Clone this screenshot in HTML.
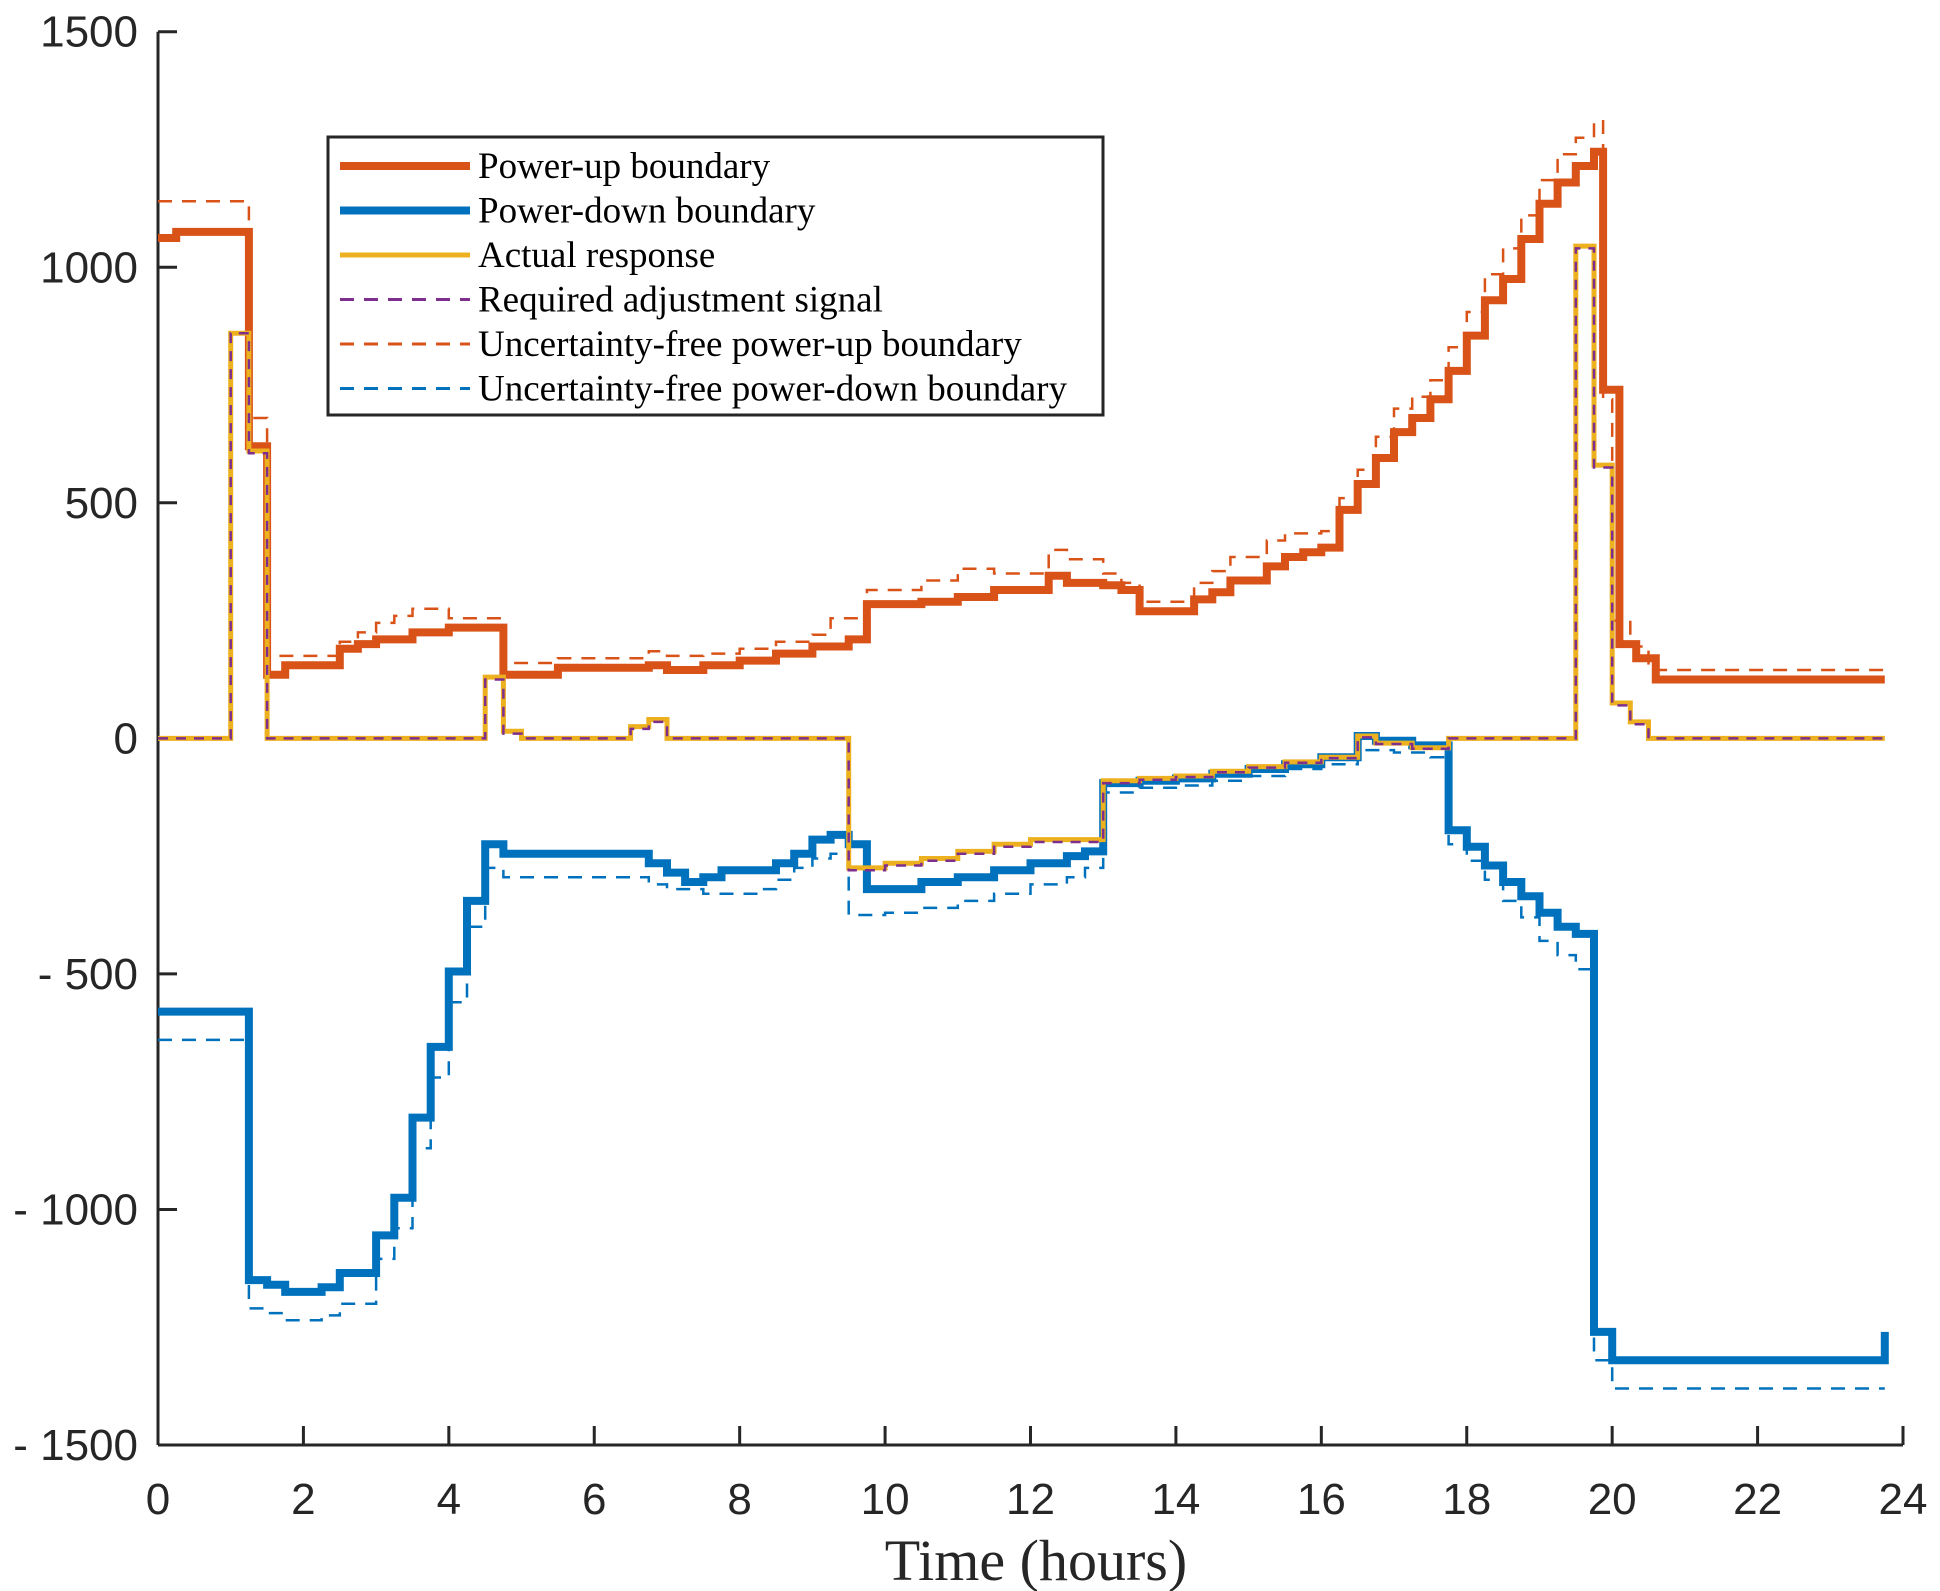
<!DOCTYPE html>
<html><head><meta charset="utf-8"><style>
html,body{margin:0;padding:0;background:#fff;}
svg{display:block;}
</style></head><body>
<svg id="chart" width="1940" height="1591" viewBox="0 0 1940 1591" xmlns="http://www.w3.org/2000/svg">
<g id="axes"></g>
<g id="series"></g>
<g id="legend"></g>
</svg>
<script>
// ---- data (hours = start of each step, last segment ends at END_T) ----
const END_T = 23.75;
const xTicks = [0,2,4,6,8,10,12,14,16,18,20,22,24];
const yTicks = [1500,1000,500,0,-500,-1000,-1500];
const yTickLabels = ["1500","1000","500","0","- 500","- 1000","- 1500"];

const upT = [0,0.25,1.25,1.5,1.75,2.5,2.75,3,3.5,4,4.75,5.5,6.75,7,7.5,8,8.5,9,9.5,9.75,10.5,11,11.5,12.25,12.5,13,13.25,13.5,14.25,14.5,14.75,15.25,15.5,15.75,16,16.25,16.5,16.75,17,17.25,17.5,17.75,18,18.25,18.5,18.75,19,19.25,19.5,19.75,19.875,20.1,20.33,20.6];
const upV = [1062,1075,620,135,155,190,200,210,225,235,135,150,155,145,155,165,180,195,210,285,290,300,315,345,330,325,315,270,295,310,335,365,385,395,405,485,540,595,650,680,720,780,855,930,975,1060,1135,1180,1215,1245,740,200,170,125];

const upFreeT = [0,1.25,1.5,2.5,2.75,3,3.25,3.5,4,4.75,5.5,6.75,7,7.5,8,8.5,9,9.25,9.75,10.5,11,11.5,12.25,12.5,13,13.25,13.5,14.25,14.5,14.75,15.25,15.5,16,16.25,16.5,16.75,17,17.25,17.5,17.75,18,18.25,18.5,18.75,19,19.25,19.5,19.75,19.875,20,20.25,20.5];
const upFreeV = [1140,680,175,205,225,245,260,275,255,160,170,185,175,180,190,205,220,255,315,335,360,350,400,380,350,330,290,330,355,385,420,435,440,510,570,640,700,725,760,830,905,985,1040,1110,1185,1240,1275,1310,720,250,195,145];

const downT = [0,1.25,1.5,1.75,2.25,2.5,3,3.25,3.5,3.75,4,4.25,4.5,4.75,6.75,7,7.25,7.5,7.75,8.5,8.75,9,9.25,9.5,9.75,10.5,11,11.5,12,12.5,12.75,13,13.5,14,14.5,15,15.5,16,16.5,16.75,17.25,17.75,18,18.25,18.5,18.75,19,19.25,19.5,19.75,20,23.75];
const downV = [-580,-1150,-1160,-1175,-1165,-1135,-1055,-975,-805,-655,-495,-345,-225,-245,-265,-285,-305,-295,-280,-265,-245,-215,-205,-225,-320,-305,-295,-280,-265,-250,-240,-95,-90,-85,-75,-65,-55,-40,5,-5,-15,-195,-230,-270,-305,-335,-370,-400,-415,-1260,-1320,-1260];

const downFreeT = [0,1.25,1.5,1.75,2.25,2.5,3,3.25,3.5,3.75,4,4.25,4.5,4.75,6.75,7,7.5,8.25,8.5,8.75,9,9.25,9.5,10,10.5,11,11.5,12,12.5,12.75,13,13.5,14,14.5,15,15.5,16,16.5,17,17.5,17.75,18,18.25,18.5,18.75,19,19.25,19.5,19.75,20];
const downFreeV = [-640,-1210,-1220,-1235,-1225,-1200,-1105,-1040,-870,-720,-560,-400,-275,-295,-310,-320,-330,-320,-300,-275,-255,-245,-375,-370,-360,-345,-330,-310,-295,-275,-115,-105,-100,-90,-80,-65,-55,-25,-30,-40,-225,-260,-300,-345,-380,-430,-460,-490,-1320,-1380];

const actT = [0,1.0,1.25,1.5,4.5,4.75,5.0,6.5,6.75,7,9.5,10,10.5,11,11.5,12,12.5,13,13.5,14,14.5,15,15.5,16,16.5,16.75,17.25,17.75,19.5,19.75,20,20.25,20.5];
const actV = [0,860,610,0,130,15,0,25,40,0,-275,-265,-255,-240,-225,-215,-215,-90,-85,-80,-70,-60,-50,-40,5,-10,-20,0,1045,580,75,35,0];
const reqV = [0,860,605,0,125,10,0,20,35,0,-280,-270,-260,-245,-230,-220,-220,-95,-88,-82,-72,-62,-52,-42,2,-12,-22,0,1040,575,70,30,0];

// ---- axis functions ----
const X0=158, X1=1903, Y0=31.7, Y1=1445;
function sx(t){return X0+(t-0)/(24-0)*(X1-X0);}
function sy(v){return Y0+(1500-v)/(3000)*(Y1-Y0);}
const NS="http://www.w3.org/2000/svg";
function mk(tag,attrs,parent){const e=document.createElementNS(NS,tag);for(const k in attrs)e.setAttribute(k,attrs[k]);parent.appendChild(e);return e;}
function stepPath(T,V){
  let d="";
  for(let i=0;i<T.length;i++){
    const t0=T[i], t1=(i+1<T.length)?T[i+1]:END_T;
    const y=sy(V[i]);
    d+=(i===0?"M":"L")+sx(t0).toFixed(1)+","+y.toFixed(1)+" L"+sx(t1).toFixed(1)+","+y.toFixed(1)+" ";
  }
  return d;
}
const axes=document.getElementById('axes');
const ser=document.getElementById('series');
const leg=document.getElementById('legend');

// axes
const yl=mk('line',{x1:X0,y1:Y0,x2:X0,y2:Y1,stroke:'#262626','stroke-width':3},axes);


const xl=mk('line',{x1:X0,y1:Y1,x2:X1,y2:Y1,stroke:'#262626','stroke-width':3},axes);


yTicks.forEach((v,i)=>{
  const tk=mk('line',{x1:X0,y1:sy(v),x2:X0+19,y2:sy(v),stroke:'#262626','stroke-width':3},axes);
  
  
  const tx=mk('text',{x:138,y:sy(v)+15,'text-anchor':'end','font-family':'Liberation Sans, Arial, sans-serif','font-size':44,fill:'#262626'},axes);
  
  
  tx.textContent=yTickLabels[i];
});
xTicks.forEach(t=>{
  const tk=mk('line',{x1:sx(t),y1:Y1,x2:sx(t),y2:Y1-19,stroke:'#262626','stroke-width':3},axes);
  
  
  const tx=mk('text',{x:sx(t),y:1514,'text-anchor':'middle','font-family':'Liberation Sans, Arial, sans-serif','font-size':44,fill:'#262626'},axes);
  
  
  tx.textContent=String(t);
});
const xt=mk('text',{x:1036,y:1580,'text-anchor':'middle','font-family':'Liberation Serif, Times New Roman, serif','font-size':58,fill:'#262626'},axes);


xt.textContent='Time (hours)';

// series
const specs=[
 {T:downFreeT,V:downFreeV,c:'#0072BD',w:2.5,dash:'14 10',name:'uncertainty-free-power-down-line'},
 {T:upFreeT,V:upFreeV,c:'#D95319',w:2.5,dash:'14 10',name:'uncertainty-free-power-up-line'},
 {T:downT,V:downV,c:'#0072BD',w:8,dash:null,name:'power-down-boundary-line'},
 {T:upT,V:upV,c:'#D95319',w:8,dash:null,name:'power-up-boundary-line'},
 {T:actT,V:actV,c:'#EDB120',w:5,dash:null,name:'actual-response-line'},
 {T:actT,V:reqV,c:'#7E2F8E',w:2.5,dash:'10 8',name:'required-adjustment-signal-line'}
];
specs.forEach(s=>{
  const p=mk('path',{d:stepPath(s.T,s.V),fill:'none',stroke:s.c,'stroke-width':s.w,'stroke-linejoin':'miter','stroke-linecap':'butt'},ser);
  if(s.dash)p.setAttribute('stroke-dasharray',s.dash);
  
  
});

// legend
const box=mk('rect',{x:328,y:137,width:775,height:278,fill:'#fff',stroke:'#262626','stroke-width':3},leg);


const legItems=[
 ['Power-up boundary','#D95319',8,null],
 ['Power-down boundary','#0072BD',8,null],
 ['Actual response','#EDB120',5,null],
 ['Required adjustment signal','#7E2F8E',3,'14 10'],
 ['Uncertainty-free power-up boundary','#D95319',3,'14 10'],
 ['Uncertainty-free power-down boundary','#0072BD',3,'14 10']
];
legItems.forEach((it,i)=>{
  const cy=166+i*44.5;
  const ln=mk('line',{x1:340,y1:cy,x2:470,y2:cy,stroke:it[1],'stroke-width':it[2]},leg);
  if(it[3])ln.setAttribute('stroke-dasharray',it[3]);
  
  
  const tx=mk('text',{x:478,y:cy+12,'font-family':'Liberation Serif, Times New Roman, serif','font-size':37,fill:'#000'},leg);
  
  
  tx.textContent=it[0];
});
</script>
</body></html>
